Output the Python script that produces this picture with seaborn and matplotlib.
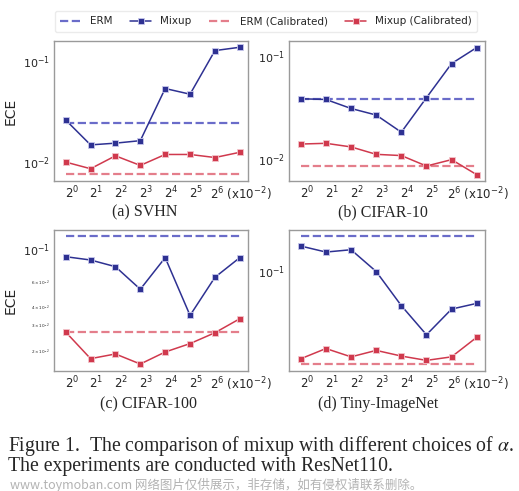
import seaborn as sns
import pandas as pd
import matplotlib.pyplot as plt
from matplotlib.lines import Line2D

# Data (ECE, log scale)
x_pos = [0, 1, 2, 3, 4, 5, 6, 7]
tick_labels = ["$2^0$", "$2^1$", "$2^2$", "$2^3$", "$2^4$", "$2^5$", "$2^6$ (x10$^{-2}$)"]

svhn_mixup = [0.0261, 0.0148, 0.0154, 0.0163, 0.0535, 0.047, 0.127, 0.137]
svhn_mixup_cal = [0.0100, 0.0086, 0.01154, 0.00927, 0.0119, 0.0119, 0.0111, 0.0125]
svhn_erm = 0.0246
svhn_erm_cal = 0.00762

c10_mixup = [0.0384, 0.0378, 0.0309, 0.0267, 0.0182, 0.0393, 0.0843, 0.1205]
c10_mixup_cal = [0.01397, 0.0142, 0.0131, 0.0111, 0.0108, 0.00855, 0.00986, 0.00705]
c10_erm = 0.0386
c10_erm_cal = 0.00855

c100_mixup = [0.0886, 0.0841, 0.0757, 0.053, 0.0873, 0.0351, 0.064, 0.0873]
c100_mixup_cal = [0.0270, 0.01774, 0.0191, 0.0163, 0.0197, 0.0225, 0.0267, 0.0333]
c100_erm = 0.122
c100_erm_cal = 0.0268

tin_mixup = [0.1556, 0.1396, 0.1456, 0.0982, 0.053, 0.0313, 0.0498, 0.0552]
tin_mixup_cal = [0.0203, 0.0244, 0.0210, 0.0236, 0.0213, 0.0197, 0.0210, 0.0299]
tin_erm = 0.188
tin_erm_cal = 0.0183

panels = [
    ("(a) SVHN", svhn_mixup, svhn_mixup_cal, svhn_erm, svhn_erm_cal, (0.0065, 0.158)),
    ("(b) CIFAR-10", c10_mixup, c10_mixup_cal, c10_erm, c10_erm_cal, (0.00612, 0.1395)),
    ("(c) CIFAR-100", c100_mixup, c100_mixup_cal, c100_erm, c100_erm_cal, (0.0146, 0.135)),
    ("(d) Tiny-ImageNet", tin_mixup, tin_mixup_cal, tin_erm, tin_erm_cal, (0.01626, 0.208)),
]

# colours
c_erm = "#5a5cc4"
c_mix = "#2e3192"
c_erm_cal = "#e2707f"
c_mix_cal = "#d0394d"

sns.set_style("white")
plt.rcParams["font.family"] = ["DejaVu Sans"]

fig = plt.figure(figsize=(5.19, 4.91), dpi=100)

W, H = 519, 491
boxes = [(54, 41, 248, 181), (289, 41, 485, 181), (54, 230, 248, 371), (289, 230, 485, 371)]
title_pos = [(145, 212), (383, 212), (148, 404), (378, 404)]

for i, (title, mix, mix_cal, erm, erm_cal, ylim) in enumerate(panels):
    x0, y0, x1, y1 = boxes[i]
    ax = fig.add_axes([x0 / W, 1 - y1 / H, (x1 - x0) / W, (y1 - y0) / H])
    df = pd.DataFrame({"x": x_pos, "mix": mix, "mix_cal": mix_cal,
                       "erm": [erm] * len(x_pos), "erm_cal": [erm_cal] * len(x_pos)})

    sns.lineplot(data=df, x="x", y="erm", ax=ax, color=c_erm, lw=1.6,
                 linestyle="--", alpha=0.9)
    sns.lineplot(data=df, x="x", y="mix", ax=ax, color=c_mix, lw=1.1,
                 marker="s", markersize=5, markeredgecolor="#c8c9ec", markeredgewidth=0.6)
    sns.lineplot(data=df, x="x", y="erm_cal", ax=ax, color=c_erm_cal, lw=1.6,
                 linestyle="--", alpha=0.9)
    sns.lineplot(data=df, x="x", y="mix_cal", ax=ax, color=c_mix_cal, lw=1.1,
                 marker="s", markersize=5, markeredgecolor="#f3c6cc", markeredgewidth=0.6)

    ax.set_yscale("log")
    ax.set_ylim(*ylim)
    ax.set_xlim(-0.47, 7.33)
    ax.set_xticks([0.24, 1.24, 2.24, 3.24, 4.24, 5.24, 5.8])
    ax.set_xticklabels(tick_labels, fontsize=8.5)
    ax.get_xticklabels()[-1].set_ha("left")
    ax.tick_params(axis="both", which="both", length=0, pad=3)
    ax.tick_params(axis="y", which="major", labelsize=8)
    ax.tick_params(axis="y", which="minor", labelsize=3)
    ax.set_xlabel("")
    if i % 2 == 0:
        ax.set_ylabel("ECE", fontsize=10)
    else:
        ax.set_ylabel("")
    for sp in ax.spines.values():
        sp.set_color("#9a9a9a")
        sp.set_linewidth(1.0)

    tx, ty = title_pos[i]
    fig.text(tx / W, 1 - ty / H, title, ha="center", va="center",
             family="Liberation Serif", fontsize=11.5)

handles = [
    Line2D([], [], color=c_erm, lw=1.6, linestyle="--", alpha=0.9),
    Line2D([], [], color=c_mix, lw=1.1, marker="s", markersize=5,
           markeredgecolor="#c8c9ec", markeredgewidth=0.6),
    Line2D([], [], color=c_erm_cal, lw=1.6, linestyle="--", alpha=0.9),
    Line2D([], [], color=c_mix_cal, lw=1.1, marker="s", markersize=5,
           markeredgecolor="#f3c6cc", markeredgewidth=0.6),
]
fig.legend(handles, ["ERM", "Mixup", "ERM (Calibrated)", "Mixup (Calibrated)"],
           loc="upper center", bbox_to_anchor=(266 / W, 1 - 6 / H), ncol=4,
           fontsize=7.5, frameon=True, columnspacing=1.7, handlelength=2.0,
           handletextpad=0.9, borderpad=0.5, edgecolor="#e6e6e6")

fig.text(8 / W, 1 - 446 / H, r"Figure 1.  The comparison of mixup with different choices of $\alpha$.",
         ha="left", va="center", family="Liberation Serif", fontsize=14.2, math_fontfamily="stix")
fig.text(8 / W, 1 - 467 / H, "The experiments are conducted with ResNet110.",
         ha="left", va="center", family="Liberation Serif", fontsize=14.2)
fig.text(10 / W, 1 - 485 / H, "www.toymoban.com 网络图片仅供展示，非存储，如有侵权请联系删除。",
         ha="left", va="center", family=["Noto Sans CJK SC", "DejaVu Sans"],
         fontsize=9.0, color="#a0a0a0", alpha=0.8)

fig.savefig("out.png", dpi=100)
